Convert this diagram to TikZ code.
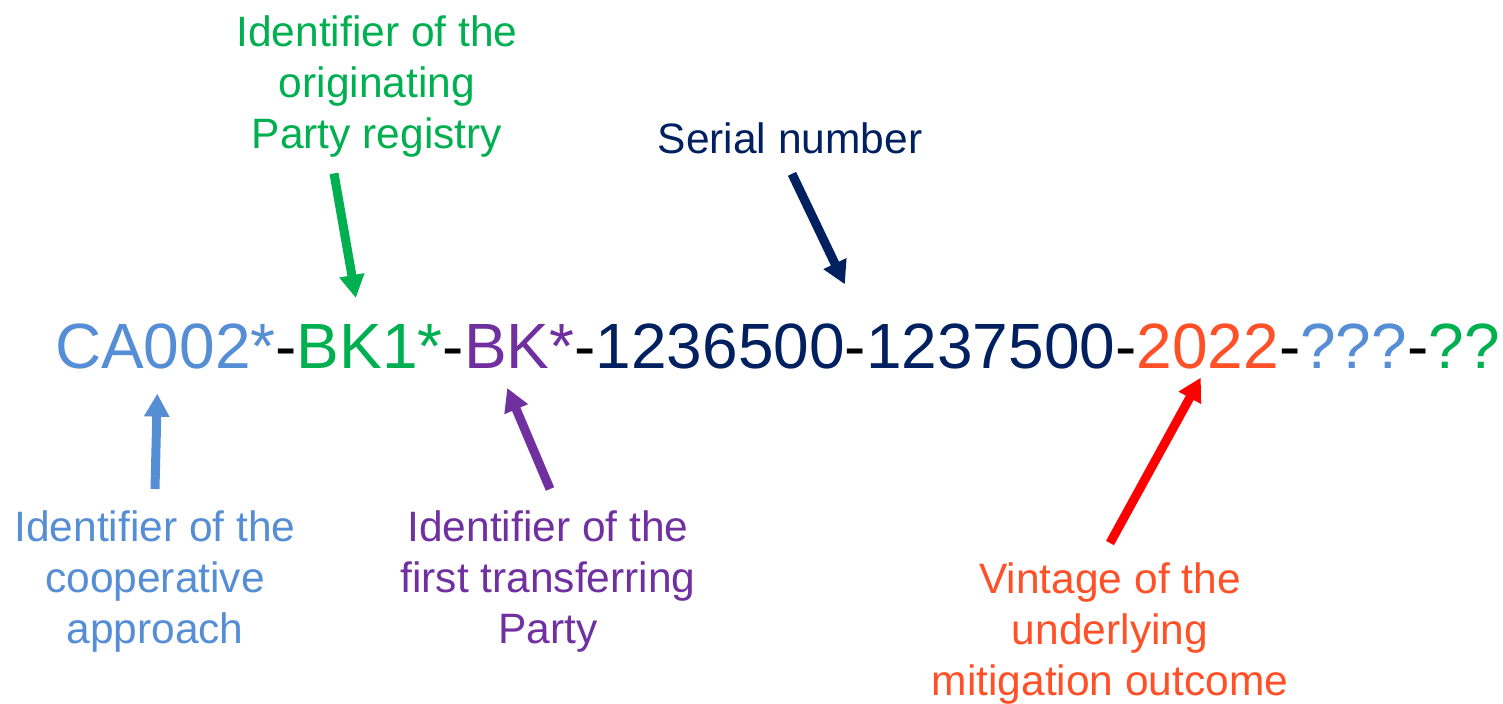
\documentclass[tikz,border=0pt]{standalone}
\usepackage{fontspec}
\setmainfont{Liberation Sans}
\usepackage{tikz}
\usetikzlibrary{arrows.meta}
\usetikzlibrary{positioning}
\definecolor{idblue}{RGB}{85,142,213}
\definecolor{idgreen}{RGB}{0,176,80}
\definecolor{idpurple}{RGB}{112,48,160}
\definecolor{idnavy}{RGB}{0,32,96}
\definecolor{idorange}{RGB}{255,80,40}
\definecolor{idred}{RGB}{255,0,0}
\tikzstyle{part} = [inner sep=0pt, outer sep=0pt, font=\fontsize{32}{38}\selectfont]
\tikzstyle{hyph} = [part, black]
\tikzstyle{note} = [inner sep=0pt, align=center, font=\fontsize{21.25}{25.5}\selectfont]
\tikzstyle{pointer} = [-{Triangle[length=11.5pt,width=12pt]}, line width=4.5pt]

\begin{document}
\begin{tikzpicture}[x=0.5pt, y=-0.5pt]
      \useasboundingbox (0,0) rectangle (1503,703);

      % Identifier string
      \node[part, idblue, anchor=base west] (ca) at (55,368) {CA002*};
      \node[hyph, base right=0pt of ca] (d1) {-};
      \node[part, idgreen, base right=0pt of d1] (bk1) {BK1*};
      \node[hyph, base right=0pt of bk1] (d2) {-};
      \node[part, idpurple, base right=0pt of d2] (bk) {BK*};
      \node[hyph, base right=0pt of bk] (d3) {-};
      \node[part, idnavy, base right=0pt of d3] (sn1) {1236500};
      \node[hyph, base right=0pt of sn1] (d4) {-};
      \node[part, idnavy, base right=0pt of d4] (sn2) {1237500};
      \node[hyph, base right=0pt of sn2] (d5) {-};
      \node[part, idorange, base right=0pt of d5] (yr) {2022};
      \node[hyph, base right=0pt of yr] (d6) {-};
      \node[part, idblue, base right=0pt of d6] (q1) {???};
      \node[hyph, base right=0pt of q1] (d7) {-};
      \node[part, idgreen, base right=0pt of d7] (q2) {??};

      % Labels
      \node[note, idgreen, anchor=north] (orig) at (377,15) {Identifier of the\\originating\\Party registry};
      \node[note, idnavy, anchor=base] (serial) at (790,153) {Serial number};
      \node[note, idblue, anchor=north] (coop) at (155,510) {Identifier of the\\cooperative\\approach};
      \node[note, idpurple, anchor=north] (first) at (548,510) {Identifier of the\\first transferring\\Party};
      \node[note, idorange, anchor=north] (vint) at (1110,562) {Vintage of the\\underlying\\mitigation outcome};

      % Pointers
      \draw[pointer, idgreen] ([shift={(-43,16)}]orig.south) -- ([shift={(-14,-26)}]bk1.north);
      \draw[pointer, idnavy] ([shift={(2,20)}]serial.south) -- ([shift={(0,-39)}]sn1.north east);
      \draw[pointer, idblue] ([shift={(0,-21)}]coop.north) -- ([shift={(-8,25)}]ca.south);
      \draw[pointer, idpurple] ([shift={(2,-21)}]first.north) -- ([shift={(-12,20)}]bk.south);
      \draw[pointer, idred] ([shift={(0,-19)}]vint.north) -- ([shift={(-7,9)}]yr.south);

\end{tikzpicture}
\end{document}
